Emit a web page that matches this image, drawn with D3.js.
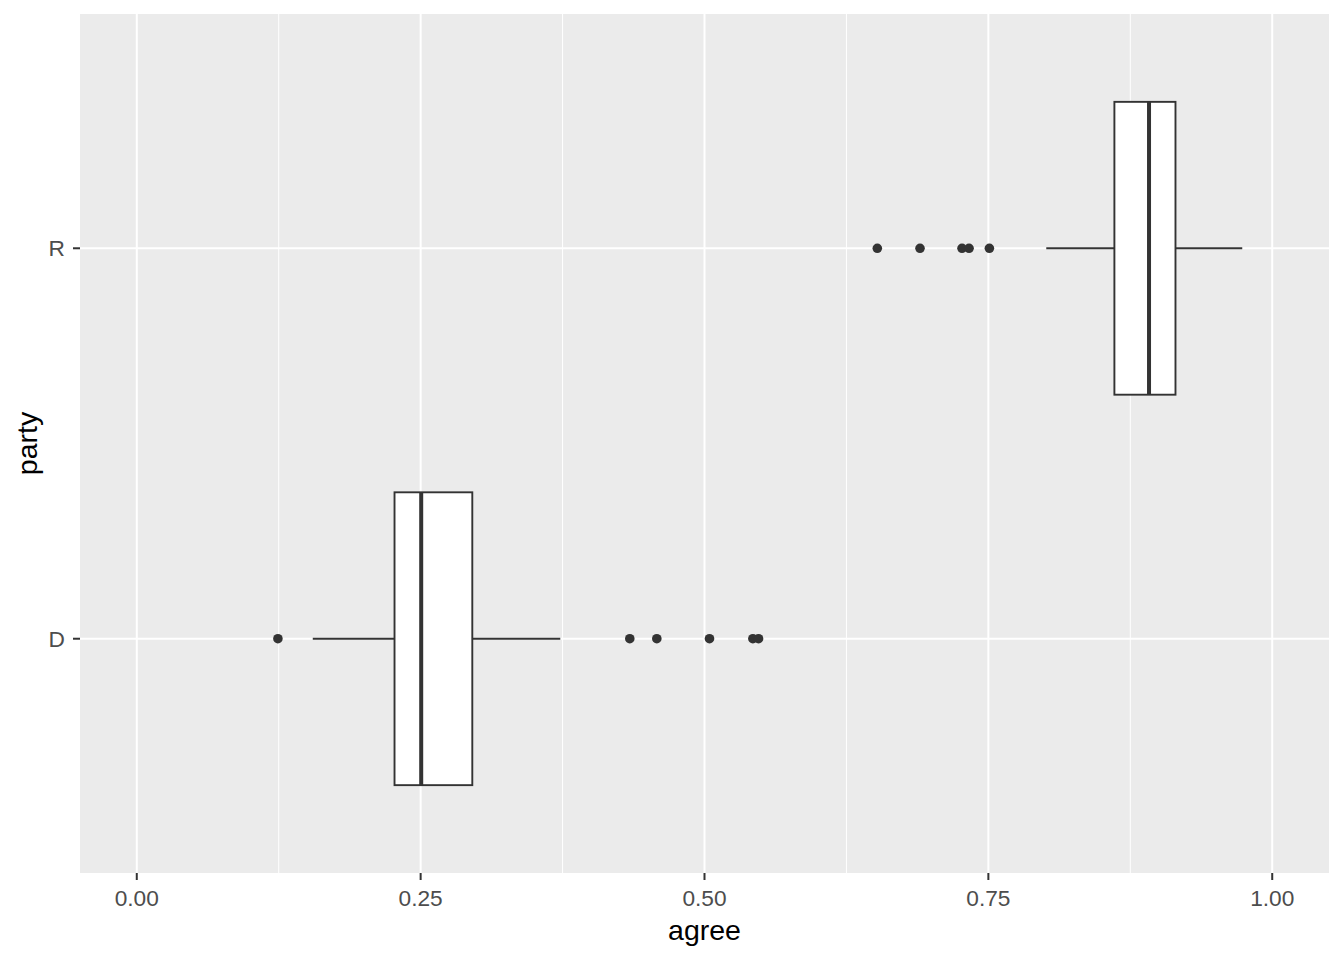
<!DOCTYPE html>
<html>
<head>
<meta charset="utf-8">
<script src="https://cdn.jsdelivr.net/npm/d3@7"></script>
<style>
  html, body { margin: 0; padding: 0; background: #ffffff; }
  svg { display: block; }
</style>
</head>
<body>
<svg id="chart" width="1344" height="960"></svg>
<script>
// ---- data ----
const parties   = ["D", "R"];
const whiskerLo = [0.155, 0.801];
const q1        = [0.227, 0.861];
const medians   = [0.2505, 0.8915];
const q3        = [0.2955, 0.9148];
const whiskerHi = [0.373, 0.9736];
const outliersD = [0.1243, 0.4342, 0.4580, 0.5044, 0.5426, 0.5476];
const outliersR = [0.6522, 0.6898, 0.7268, 0.7330, 0.7509];
const xTicks      = [0, 0.25, 0.5, 0.75, 1];
const xMinorTicks = [0.125, 0.375, 0.625, 0.875];
const xLabel = "agree";
const yLabel = "party";

// ---- layout ----
const svg = d3.select("#chart");
const panel = { left: 80, right: 1329, top: 14, bottom: 873 };

const x = d3.scaleLinear().domain([-0.05, 1.05]).range([panel.left, panel.right]);
// discrete y: positions 1..n, expanded by 0.6 on each side
const yPos = d3.scaleLinear().domain([0.4, parties.length + 0.6]).range([panel.bottom, panel.top]);
const yOf = p => yPos(parties.indexOf(p) + 1);
const boxHalf = (yPos(0) - yPos(0.75)) / 2;

// panel background
svg.append("rect")
  .attr("x", panel.left).attr("y", panel.top)
  .attr("width", panel.right - panel.left).attr("height", panel.bottom - panel.top)
  .attr("fill", "#EBEBEB");

const grid = svg.append("g");
// minor grid
grid.selectAll("line.minor").data(xMinorTicks).enter().append("line")
  .attr("x1", d => x(d)).attr("x2", d => x(d))
  .attr("y1", panel.top).attr("y2", panel.bottom)
  .attr("stroke", "#ffffff").attr("stroke-width", 1);
// major grid vertical
grid.selectAll("line.majorx").data(xTicks).enter().append("line")
  .attr("x1", d => x(d)).attr("x2", d => x(d))
  .attr("y1", panel.top).attr("y2", panel.bottom)
  .attr("stroke", "#ffffff").attr("stroke-width", 2);
// major grid horizontal
grid.selectAll("line.majory").data(parties).enter().append("line")
  .attr("x1", panel.left).attr("x2", panel.right)
  .attr("y1", d => yOf(d)).attr("y2", d => yOf(d))
  .attr("stroke", "#ffffff").attr("stroke-width", 2);

// boxplots
const ink = "#333333";
const boxes = svg.append("g");
parties.forEach((p, i) => {
  const cy = yOf(p);
  const g = boxes.append("g");
  // whiskers
  g.append("line").attr("x1", x(whiskerLo[i])).attr("x2", x(q1[i]))
    .attr("y1", cy).attr("y2", cy).attr("stroke", ink).attr("stroke-width", 1.9);
  g.append("line").attr("x1", x(q3[i])).attr("x2", x(whiskerHi[i]))
    .attr("y1", cy).attr("y2", cy).attr("stroke", ink).attr("stroke-width", 1.9);
  // box
  g.append("rect")
    .attr("x", x(q1[i])).attr("y", cy - boxHalf)
    .attr("width", x(q3[i]) - x(q1[i])).attr("height", 2 * boxHalf)
    .attr("fill", "#ffffff").attr("stroke", ink).attr("stroke-width", 1.9);
  // median
  g.append("line").attr("x1", x(medians[i])).attr("x2", x(medians[i]))
    .attr("y1", cy - boxHalf).attr("y2", cy + boxHalf)
    .attr("stroke", ink).attr("stroke-width", 4);
  // outliers
  const outs = p === "D" ? outliersD : outliersR;
  g.selectAll("circle").data(outs).enter().append("circle")
    .attr("cx", d => x(d)).attr("cy", cy).attr("r", 4.8).attr("fill", ink);
});

// x axis
const xAxis = svg.append("g");
xAxis.selectAll("line.tick").data(xTicks).enter().append("line")
  .attr("x1", d => x(d)).attr("x2", d => x(d))
  .attr("y1", panel.bottom).attr("y2", panel.bottom + 7)
  .attr("stroke", ink).attr("stroke-width", 2);
xAxis.selectAll("text").data(xTicks).enter().append("text")
  .attr("x", d => x(d)).attr("y", 906)
  .attr("text-anchor", "middle")
  .attr("font-family", "Liberation Sans, Arial, sans-serif")
  .attr("font-size", 22.7).attr("fill", "#4D4D4D")
  .text(d => d3.format(".2f")(d));

// y axis
const yAxis = svg.append("g");
yAxis.selectAll("line.tick").data(parties).enter().append("line")
  .attr("x1", panel.left - 7).attr("x2", panel.left)
  .attr("y1", d => yOf(d)).attr("y2", d => yOf(d))
  .attr("stroke", ink).attr("stroke-width", 2);
yAxis.selectAll("text").data(parties).enter().append("text")
  .attr("x", 65).attr("y", d => yOf(d) + 8.2)
  .attr("text-anchor", "end")
  .attr("font-family", "Liberation Sans, Arial, sans-serif")
  .attr("font-size", 22.7).attr("fill", "#4D4D4D")
  .text(d => d);

// axis titles
svg.append("text")
  .attr("x", (panel.left + panel.right) / 2).attr("y", 940)
  .attr("text-anchor", "middle")
  .attr("font-family", "Liberation Sans, Arial, sans-serif")
  .attr("font-size", 28.5).attr("fill", "#000000")
  .text(xLabel);
svg.append("text")
  .attr("transform", `translate(37,${(panel.top + panel.bottom) / 2}) rotate(-90)`)
  .attr("text-anchor", "middle")
  .attr("font-family", "Liberation Sans, Arial, sans-serif")
  .attr("font-size", 28.5).attr("fill", "#000000")
  .text(yLabel);
</script>
</body>
</html>
